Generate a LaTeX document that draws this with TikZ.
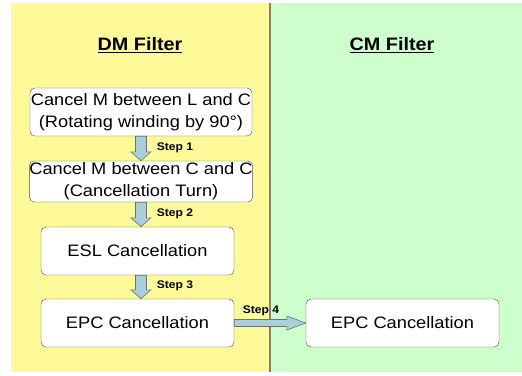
\documentclass[tikz,border=0pt]{standalone}
\usepackage{fontspec}
\setmainfont{Liberation Sans}[FakeStretch=1.1]
\usetikzlibrary{calc,positioning}
\definecolor{dmyellow}{HTML}{FFFA99}
\definecolor{cmgreen}{HTML}{CCFFCC}
\definecolor{arrfill}{HTML}{A8CFDA}
\definecolor{arrline}{HTML}{707070}
\tikzset{
  stage/.style={draw=black!70, fill=white, rounded corners=5pt, align=center,
    inner sep=0pt, font=\fontsize{16.6}{22}\selectfont},
  steplbl/.style={font=\bfseries\fontsize{11}{13}\selectfont, inner sep=0pt},
  title/.style={font=\bfseries\fontsize{18}{22}\selectfont},
  blockarr/.style={fill=arrfill, draw=arrline, line width=0.6pt}
}
% vertical block arrow from #1 down to #2
\newcommand{\downarr}[2]{%
  \path[blockarr] let \p1=(#1), \p2=(#2) in
    (\x1-5.5pt,\y1) -- (\x1+5.5pt,\y1) -- (\x1+5.5pt,\y2+9pt) -- (\x1+10pt,\y2+9pt)
    -- (\x1,\y2) -- (\x1-10pt,\y2+9pt) -- (\x1-5.5pt,\y2+9pt) -- cycle;}
\begin{document}
\begin{tikzpicture}[x=1pt,y=-1pt]
\useasboundingbox (0,0) rectangle (522,375);
% backgrounds
\fill[dmyellow] (11,3) rectangle (270,372);
\fill[cmgreen] (270,3) rectangle (522,372);
\draw[gray, line width=1.2pt] (270,3) -- (270,372);
\node[title] (dmtitle) at (140,45) {\underline{DM Filter}};
\node[title] (cmtitle) at (392,45) {\underline{CM Filter}};
% stages
\node[stage, minimum width=222, minimum height=48] (lc) at (141,112)
  {Cancel M between L and C\\(Rotating winding by 90°)};
\node[stage, minimum width=222, minimum height=41] (cc) at (141,181.5)
  {Cancel M between C and C\\(Cancellation Turn)};
\node[stage, minimum width=193, minimum height=48] (esl) at (137.5,251) {ESL Cancellation};
\node[stage, minimum width=193, minimum height=48] (epc) at (137.5,323) {EPC Cancellation};
\node[stage, minimum width=193, minimum height=48] (cmepc) at (402.5,323) {EPC Cancellation};
% arrows
\downarr{lc.south}{cc.north}
\downarr{cc.south}{esl.north}
\downarr{$(esl.south)+(3.5,0)$}{epc.north}
\path[blockarr] let \p1=(epc.east), \p2=(cmepc.west) in
  (\x1,\y1+3.5pt) -- (\x2-19pt,\y1+3.5pt) -- (\x2-19pt,\y1+7pt) -- (\x2,\y1)
  -- (\x2-19pt,\y1-7pt) -- (\x2-19pt,\y1-3.5pt) -- (\x1,\y1-3.5pt) -- cycle;
\node[steplbl] (step1) at (175,148) {Step 1};
\node[steplbl] (step2) at (175,214) {Step 2};
\node[steplbl] (step3) at (175,286) {Step 3};
\node[steplbl] (step4) at (261,311) {Step 4};
\end{tikzpicture}
\end{document}
